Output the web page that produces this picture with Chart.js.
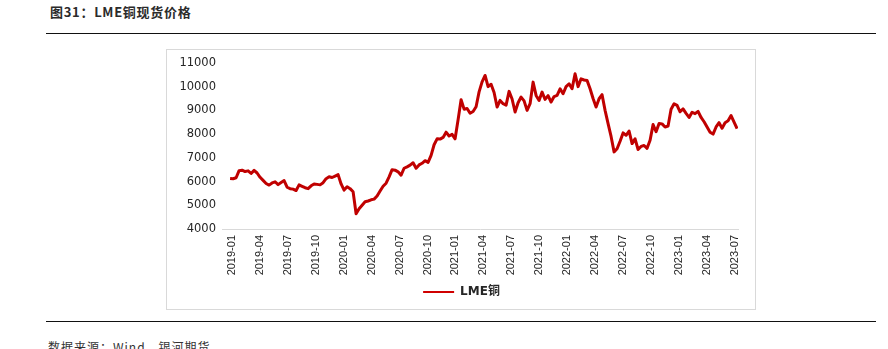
<!DOCTYPE html>
<html>
<head>
<meta charset="utf-8">
<script src="https://cdn.jsdelivr.net/npm/chart.js@4.4.0/dist/chart.umd.min.js"></script>
<style>
  html, body { margin: 0; padding: 0; background: #fff; }
  body { width: 888px; height: 349px; position: relative; overflow: hidden; }
  .title {
    position: absolute; left: 50px; top: 2px;
    font: bold 13px "Noto Sans CJK SC", "Liberation Serif", serif;
    color: #2b2b2b; letter-spacing: 0.7px;
  }
  .rule { position: absolute; left: 46px; width: 830px; height: 0; border-top: 1.5px solid #111; }
  .box {
    position: absolute; left: 166px; top: 49px; width: 588px; height: 259px;
    border: 1px solid #d9d9d9;
  }
  .box canvas { position: absolute; left: 0; top: 0; }
  .source {
    position: absolute; left: 48px; top: 338px;
    font: 12px "Noto Sans CJK SC", serif; color: #333; letter-spacing: 1px;
  }
</style>
</head>
<body>
<div class="title">图31：LME铜现货价格</div>
<div class="rule" style="top:33px"></div>
<div class="box"><canvas id="copperChart" width="588" height="259"></canvas></div>
<div class="rule" style="top:321px"></div>
<div class="source">数据来源：Wind，银河期货</div>

<script>
// LME 铜现货价格（美元/吨），约每 10 天一个点，2019-01 起至 2023-07
const prices = [
  6130, 6120, 6160, 6460, 6480, 6420, 6450, 6340, 6470, 6360,
  6180, 6050, 5920, 5850, 5940, 5990, 5870, 5960, 6040, 5760,
  5700, 5680, 5620, 5860, 5800, 5740, 5700, 5820, 5900, 5880,
  5860, 5950, 6120, 6200, 6170, 6230, 6290, 5900, 5640, 5780,
  5700, 5570, 4640, 4850, 5000, 5150, 5180, 5230, 5260, 5390,
  5600, 5800, 5930, 6200, 6500, 6480, 6410, 6270, 6560, 6620,
  6690, 6790, 6560, 6700, 6770, 6880, 6810, 7100, 7550, 7800,
  7790, 7860, 8080, 7920, 7990, 7800, 8600, 9450, 9050, 9080,
  8880, 8950, 9150, 9780, 10200, 10470, 10000, 10100, 9750, 9140,
  9420, 9280, 9220, 9800, 9480, 8930, 9320, 9560, 9400, 9000,
  9280, 10190, 9630, 9420, 9770, 9460, 9620, 9350, 9580, 9630,
  9910, 9700, 10000, 10120, 9910, 10540, 10000, 10330, 10280, 10260,
  9910, 9500, 9140, 9490, 9660, 9000, 8440, 7900, 7250, 7380,
  7700, 8050, 7950, 8130, 7600, 7800, 7350, 7480, 7520, 7400,
  7740, 8400, 8100, 8450, 8430, 8300, 8340, 9050, 9280, 9210,
  8940, 9060, 8870, 8700, 8920, 8860, 8960, 8700, 8520, 8300,
  8080, 8000, 8300, 8480, 8250, 8480, 8560, 8780, 8500, 8230
];

// 横轴刻度（每季度一个）
const tickLabels = [
  '2019-01', '2019-04', '2019-07', '2019-10',
  '2020-01', '2020-04', '2020-07', '2020-10',
  '2021-01', '2021-04', '2021-07', '2021-10',
  '2022-01', '2022-04', '2022-07', '2022-10',
  '2023-01', '2023-04', '2023-07'
];
const yTicks = [4000, 5000, 6000, 7000, 8000, 9000, 10000, 11000];

// 以 2019-01 为 0 的月份序号
const firstMonth = -0.2;
const lastMonth = 54.25;

const step = (lastMonth - firstMonth) / (prices.length - 1);
const points = prices.map((v, i) => ({ x: firstMonth + i * step, y: v }));

// 图例整体右移一点，居中在整个图框下方
const legendShift = {
  id: 'legendShift',
  afterLayout(chart) {
    chart.legend.left += 9;
    chart.legend.right += 9;
  }
};

const ctx = document.getElementById('copperChart').getContext('2d');
new Chart(ctx, {
  type: 'line',
  data: {
    datasets: [{
      label: 'LME铜',
      data: points,
      borderColor: '#c00000',
      backgroundColor: '#d00000',
      borderWidth: 3,
      pointRadius: 0,
      tension: 0,
      borderJoinStyle: 'round'
    }]
  },
  options: {
    responsive: false,
    animation: false,
    layout: { padding: { top: 12, right: 17, left: 0, bottom: 1 } },
    plugins: {
      tooltip: { enabled: false },
      legend: {
        position: 'bottom',
        labels: {
          boxWidth: 31,
          boxHeight: 2,
          padding: 7,
          color: '#262626',
          font: { family: '"DejaVu Sans", "Noto Sans CJK SC", sans-serif', size: 12, weight: 'bold' },
          // 图例只画一条细线
          generateLabels: (chart) =>
            Chart.defaults.plugins.legend.labels.generateLabels(chart)
              .map(item => Object.assign(item, { lineWidth: 0 }))
        }
      }
    },
    scales: {
      x: {
        type: 'linear',
        min: -1.07,
        max: 54.35,
        grid: { display: false, drawTicks: false },
        border: { display: true, color: '#d9d9d9', width: 1 },
        afterBuildTicks: (scale) => {
          scale.ticks = tickLabels.map((_, i) => ({ value: i * 3 }));
        },
        afterFit: (scale) => { scale.height = 50; },
        ticks: {
          autoSkip: false,
          maxRotation: 90,
          minRotation: 90,
          padding: 6,
          color: '#262626',
          font: { family: '"Liberation Sans", Arial, sans-serif', size: 11 },
          callback: (v) => tickLabels[Math.round(v / 3)]
        }
      },
      y: {
        min: 4000,
        max: 11000,
        grid: { display: false, drawTicks: false },
        border: { display: false },
        afterBuildTicks: (scale) => {
          scale.ticks = yTicks.map(v => ({ value: v }));
        },
        afterFit: (scale) => { scale.width = 55; },
        ticks: {
          padding: 6,
          color: '#262626',
          font: { family: '"DejaVu Sans", sans-serif', size: 11.5 },
          callback: (v) => String(v)
        }
      }
    }
  },
  plugins: [legendShift]
});
</script>
</body>
</html>
